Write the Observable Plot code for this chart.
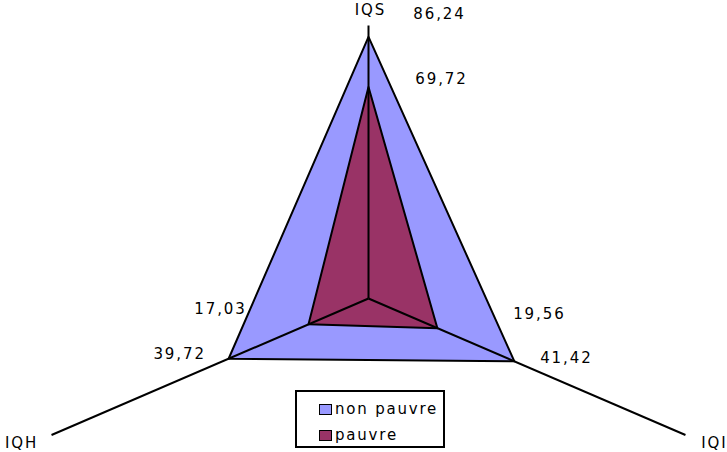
<!DOCTYPE html>
<html>
<head>
<meta charset="utf-8">
<script src="https://cdn.jsdelivr.net/npm/d3@7"></script>
<script src="https://cdn.jsdelivr.net/npm/@observablehq/plot@0.6"></script>
<style>
  html, body { margin: 0; padding: 0; background: #fff; }
  #wrap { position: relative; width: 727px; height: 452px; overflow: hidden; }
  #legend {
    position: absolute; left: 295px; top: 390px; width: 146px; height: 54px;
    border: 2px solid #000; background: #fff;
    font-family: "DejaVu Sans", sans-serif; font-size: 15px; letter-spacing: 1.8px;
  }
  .item { position: absolute; left: 22px; height: 15px; line-height: 15px; white-space: nowrap; }
  .sw { display: inline-block; width: 11px; height: 9px; border: 1.5px solid #000; vertical-align: top; margin-top: 2px; margin-right: 3px; }
</style>
</head>
<body>
<div id="wrap"></div>
<script>
// ---- data ----
const axes = ["IQS", "IQI", "IQH"];
const series = ["non pauvre", "pauvre"];
const nonPauvre = [86.24, 41.42, 39.72];
const pauvre = [69.72, 19.56, 17.03];
const labelsNonPauvre = ["86,24", "41,42", "39,72"];
const labelsPauvre = ["69,72", "19,56", "17,03"];
const axisMax = 90;

// ---- layout / style ----
const W = 727, H = 452;
const cx = 368, cy = 298, Rx = 366, Ry = 273; // pixel centre and full-axis radii
const colors = {"non pauvre": "#9999FF", "pauvre": "#993366"};
const valueOffsets = {
  "non pauvre": [[71, -23], [52, -3], [-49, -5]],
  "pauvre": [[73, -8], [102, -14], [-88, -15]]
};
const axisLabelOffsets = [[2, -15], [29, 8], [-30, 8]];

const angle = i => i * 2 * Math.PI / axes.length;
const px = (v, i) => v * Math.sin(angle(i));
const py = (v, i) => v * Math.cos(angle(i));

const valuesBy = {"non pauvre": nonPauvre, "pauvre": pauvre};
const textBy = {"non pauvre": labelsNonPauvre, "pauvre": labelsPauvre};

const polys = series.map(s => valuesBy[s].map((v, i) => ({series: s, axis: axes[i], x: px(v, i), y: py(v, i)})));
const axisLines = axes.map((a, i) => ({axis: a, x1: 0, y1: 0, x2: px(axisMax, i), y2: py(axisMax, i)}));

const font = {fontFamily: "'DejaVu Sans', sans-serif", fontSize: 15};

const marks = [];
series.forEach((s, si) => {
  marks.push(Plot.line(polys[si], {
    x: "x", y: "y", fill: colors[s], stroke: "#000", strokeWidth: 2, curve: "linear-closed"
  }));
});
marks.push(Plot.link(axisLines, {x1: "x1", y1: "y1", x2: "x2", y2: "y2", stroke: "#000", strokeWidth: 2}));

axes.forEach((a, i) => {
  marks.push(Plot.text([axisLines[i]], {
    x: "x2", y: "y2", text: d => d.axis, dx: axisLabelOffsets[i][0], dy: axisLabelOffsets[i][1],
    fill: "#000", textAnchor: "middle", ...font
  }));
});

series.forEach((s, si) => {
  polys[si].forEach((d, i) => {
    marks.push(Plot.text([d], {
      x: "x", y: "y", text: () => textBy[s][i],
      dx: valueOffsets[s][i][0], dy: valueOffsets[s][i][1],
      fill: "#000", textAnchor: "middle", ...font
    }));
  });
});

const chart = Plot.plot({
  width: W, height: H, margin: 0,
  x: {domain: [-cx / Rx * axisMax, (W - cx) / Rx * axisMax], range: [0, W], axis: null},
  y: {domain: [-(H - cy) / Ry * axisMax, cy / Ry * axisMax], range: [H, 0], axis: null},
  style: {background: "#fff", letterSpacing: "1.9px", overflow: "visible"},
  marks
});

const wrap = document.getElementById("wrap");
wrap.appendChild(chart);

const legend = document.createElement("div");
legend.id = "legend";
series.forEach((s, i) => {
  const it = document.createElement("div");
  it.className = "item";
  it.style.top = (i === 0 ? 10 : 36) + "px";
  const sw = document.createElement("span");
  sw.className = "sw";
  sw.style.background = colors[s];
  it.appendChild(sw);
  it.appendChild(document.createTextNode(s));
  legend.appendChild(it);
});
wrap.appendChild(legend);
</script>
</body>
</html>
